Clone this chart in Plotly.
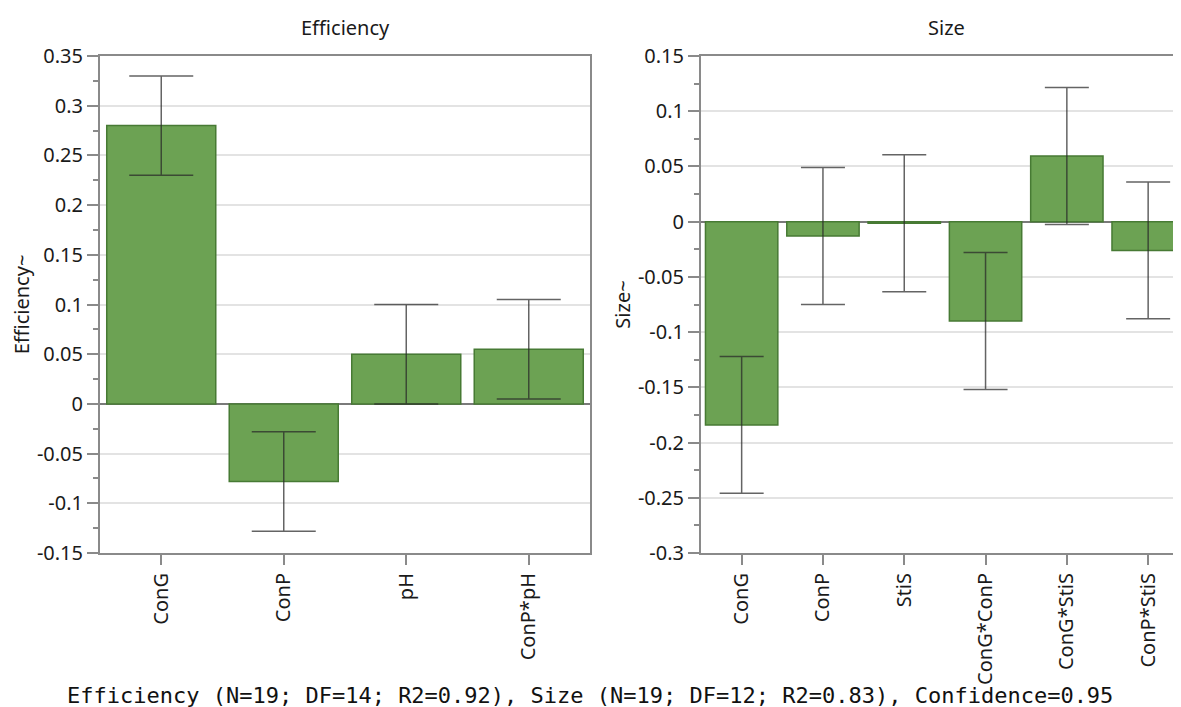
import plotly.graph_objects as go

# ---- data ----
eff_terms = ["ConG", "ConP", "pH", "ConP*pH"]
eff_vals = [0.280, -0.078, 0.050, 0.055]
eff_err = [0.050, 0.050, 0.050, 0.050]

size_terms = ["ConG", "ConP", "StiS", "ConG*ConP", "ConG*StiS", "ConP*StiS"]
size_vals = [-0.184, -0.013, -0.0015, -0.090, 0.0595, -0.026]
size_err = [0.062, 0.062, 0.062, 0.062, 0.062, 0.062]

eff_ticks = [-0.15, -0.1, -0.05, 0, 0.05, 0.1, 0.15, 0.2, 0.25, 0.3, 0.35]
eff_ticktext = ["-0.15", "-0.1", "-0.05", "0", "0.05", "0.1", "0.15", "0.2", "0.25", "0.3", "0.35"]
size_ticks = [-0.3, -0.25, -0.2, -0.15, -0.1, -0.05, 0, 0.05, 0.1, 0.15]
size_ticktext = ["-0.3", "-0.25", "-0.2", "-0.15", "-0.1", "-0.05", "0", "0.05", "0.1", "0.15"]

footer = "Efficiency (N=19; DF=14; R2=0.92), Size (N=19; DF=12; R2=0.83), Confidence=0.95"

# page body has an 8px margin; figure sized so it fills the 1181x707 window
OFF = 8
W, H = 1181 - OFF, 707 - OFF


def px_x(p):
    return (p - OFF) / W


def px_y(p):
    return 1 - (p - OFF) / H


FONT = "Noto Sans"
FS = 20
BAR_FILL = "#6ca253"
BAR_LINE = "#477a34"
ERR_COL = "rgba(40,40,40,0.72)"
GRID = "#e3e3e3"
FRAME = "#8a8a8a"
TXT = "#1a1a1a"

fig = go.Figure()

fig.add_trace(go.Bar(
    x=eff_terms, y=eff_vals, xaxis="x", yaxis="y",
    marker=dict(color=BAR_FILL, line=dict(color=BAR_LINE, width=1.5)),
    error_y=dict(type="data", array=eff_err, visible=True, color=ERR_COL, thickness=1.5, width=32),
    showlegend=False,
))
fig.add_trace(go.Bar(
    x=size_terms, y=size_vals, xaxis="x2", yaxis="y2",
    marker=dict(color=BAR_FILL, line=dict(color=BAR_LINE, width=1.5)),
    error_y=dict(type="data", array=size_err, visible=True, color=ERR_COL, thickness=1.5, width=22),
    showlegend=False,
))

YDOM = [px_y(553), px_y(56)]

common_x = dict(
    automargin=False,
    showline=True, linecolor=FRAME, linewidth=2, mirror=True,
    ticks="outside", ticklen=10, tickcolor=FRAME, tickwidth=1.5,
    tickangle=-90, showgrid=False, zeroline=False,
    tickfont=dict(family=FONT, size=FS, color=TXT),
)
common_y = dict(
    automargin=False,
    showline=True, linecolor=FRAME, linewidth=2,
    ticks="outside", ticklen=11, tickcolor=FRAME, tickwidth=1.5,
    showgrid=True, gridcolor=GRID, gridwidth=2,
    zeroline=True, zerolinecolor="#7a7a7a", zerolinewidth=1.5,
    tickfont=dict(family=FONT, size=FS, color=TXT),
    minor=dict(ticks="outside", ticklen=5, tickcolor=FRAME, tickwidth=1.5, dtick=0.025, showgrid=False),
)

fig.update_layout(
    template="none",
    width=W, height=H,
    margin=dict(l=0, r=0, t=0, b=0, autoexpand=False),
    paper_bgcolor="white", plot_bgcolor="white",
    bargap=0.11,
    font=dict(family=FONT, size=FS, color=TXT),
    xaxis=dict(common_x, domain=[px_x(100), px_x(590)], anchor="y",
               range=[-0.5, 3.5]),
    yaxis=dict(common_y, domain=YDOM, anchor="x", mirror=True,
               range=[-0.15, 0.35], tickvals=eff_ticks, ticktext=eff_ticktext,
               title=dict(text="Efficiency~", font=dict(family=FONT, size=FS, color=TXT), standoff=6)),
    xaxis2=dict(common_x, domain=[px_x(701), 1.0], anchor="y2",
                range=[-0.5, 5.404]),
    yaxis2=dict(common_y, domain=YDOM, anchor="x2", mirror=False,
                range=[-0.3, 0.15], tickvals=size_ticks, ticktext=size_ticktext,
                title=dict(text="Size~", font=dict(family=FONT, size=FS, color=TXT), standoff=2)),
    annotations=[
        dict(text="Efficiency", x=px_x(345), y=px_y(27), xref="paper", yref="paper",
             showarrow=False, xanchor="center", yanchor="middle",
             font=dict(family=FONT, size=FS, color=TXT)),
        dict(text="Size", x=px_x(946), y=px_y(27), xref="paper", yref="paper",
             showarrow=False, xanchor="center", yanchor="middle",
             font=dict(family=FONT, size=FS, color=TXT)),
        dict(text=footer, x=px_x(590), y=px_y(695), xref="paper", yref="paper",
             showarrow=False, xanchor="center", yanchor="middle",
             font=dict(family="DejaVu Sans Mono", size=22, color="#111111")),
    ],
)

fig.write_html("out.html")
